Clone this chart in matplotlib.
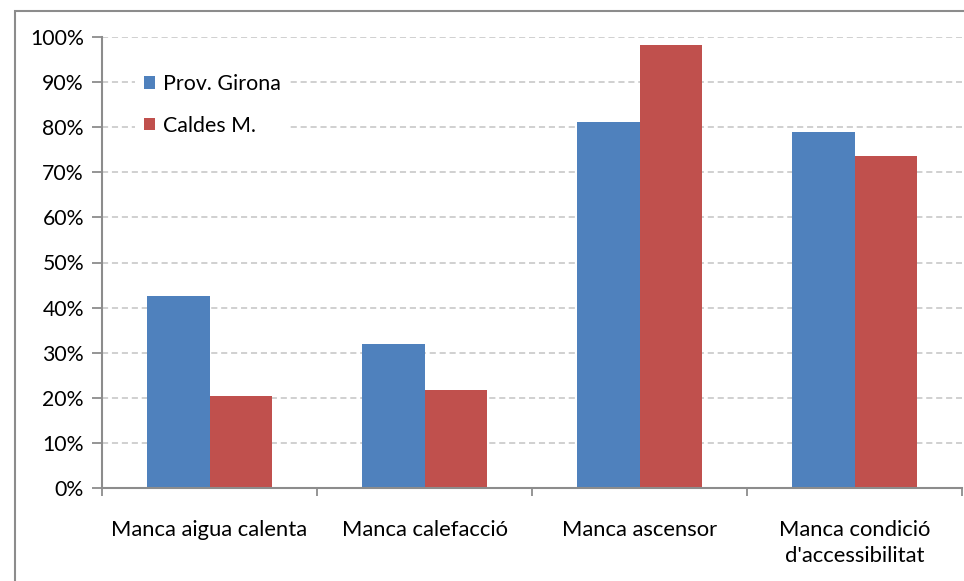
import matplotlib
matplotlib.use("Agg")
import matplotlib.pyplot as plt
from matplotlib.patches import Rectangle
from matplotlib.ticker import FixedLocator, PercentFormatter

categories = ["Manca aigua calenta", "Manca calefacció", "Manca ascensor",
              "Manca condició\nd'accessibilitat"]
girona = [42.6, 31.9, 81.2, 78.9]
caldes = [20.4, 21.7, 98.2, 73.6]
series_names = ["Prov. Girona", "Caldes M."]
yticks = list(range(0, 101, 10))

plt.rcParams['font.family'] = ['Lato', 'DejaVu Sans']

W, H = 964, 581
fig = plt.figure(figsize=(W / 100, H / 100), dpi=100)
fig.patch.set_facecolor("white")

# outer chart border
fig.add_artist(Rectangle((15 / W, -0.2), 1.3, 1 - 11 / H + 0.2,
                         transform=fig.transFigure, fill=False,
                         edgecolor="#8c8c8c", linewidth=1.5, clip_on=False))

ax = fig.add_axes([102 / W, 1 - 488 / H, 860 / W, (488 - 37) / H])

x = list(range(len(categories)))
bw = 0.29
ax.bar([i - bw / 2 for i in x], girona, width=bw, color="#4f81bd",
       label=series_names[0], zorder=3)
ax.bar([i + bw / 2 for i in x], caldes, width=bw, color="#c0504d",
       label=series_names[1], zorder=3)

ax.set_xlim(-0.5, len(categories) - 0.5)
ax.set_ylim(0, 100)
ax.set_yticks(yticks)
ax.yaxis.set_major_formatter(PercentFormatter(decimals=0))
ax.yaxis.grid(True, linestyle=(0, (4, 2.5)), color="#c3c3c3", linewidth=1.1, zorder=0)

ax.set_xticks(x)
ax.set_xticklabels(categories, fontsize=15.8, linespacing=1.4)
ax.xaxis.set_minor_locator(FixedLocator([i - 0.5 for i in range(len(categories) + 1)]))
ax.tick_params(axis="x", which="major", length=0, pad=23)
ax.tick_params(axis="x", which="minor", length=6, width=1.3, color="#8c8c8c", direction="out")
ax.tick_params(axis="y", length=7, width=1.3, color="#8c8c8c", labelsize=15.3, pad=6)

for s in ["top", "right"]:
    ax.spines[s].set_visible(False)
for s in ["left", "bottom"]:
    ax.spines[s].set_color("#8c8c8c")
    ax.spines[s].set_linewidth(1.5)
ax.spines["bottom"].set_zorder(4)

leg = ax.legend(loc="upper left", bbox_to_anchor=(0.0265, 0.96), fontsize=15.4,
                frameon=True, facecolor="white", edgecolor="none", framealpha=1,
                fancybox=False, handlelength=0.52, handleheight=0.52,
                handletextpad=0.38, labelspacing=1.0, borderpad=0.4)
leg.set_zorder(5)

fig.savefig("out.png", dpi=100)
